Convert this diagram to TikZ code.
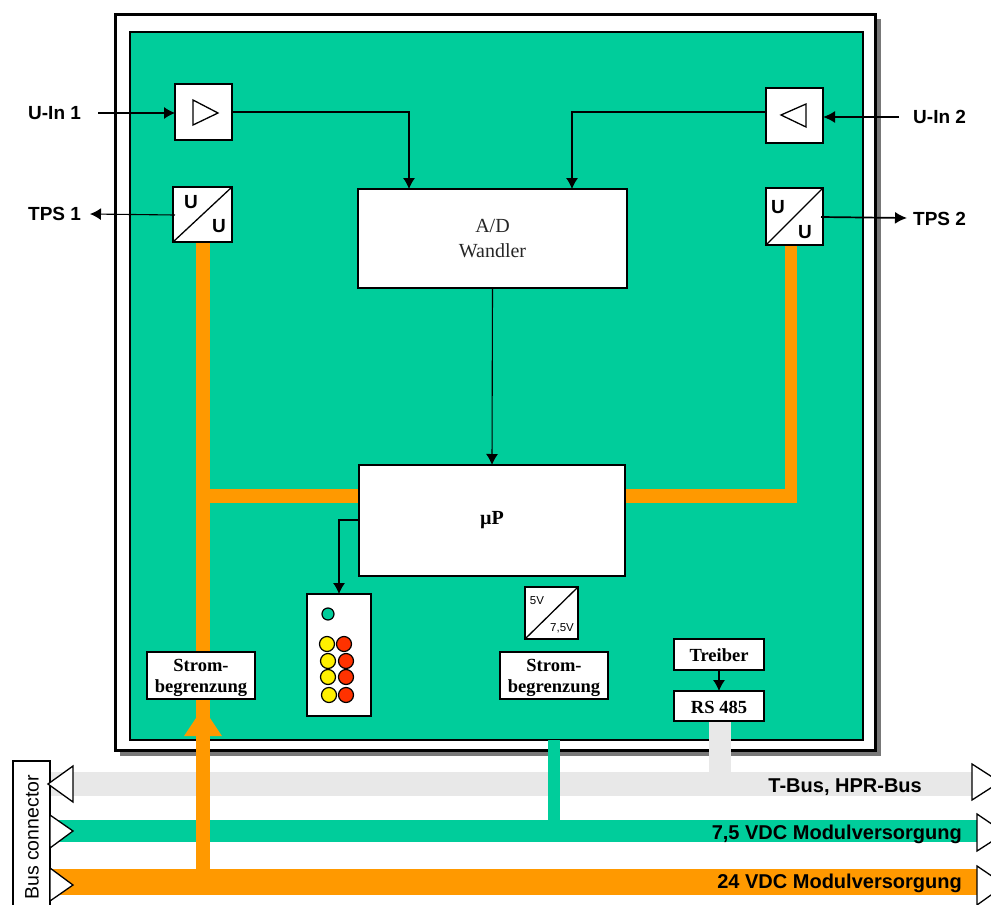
\documentclass[tikz,border=0pt]{standalone}
\usepackage{fontspec}
\setmainfont{Liberation Serif}
\setsansfont{Liberation Sans}
\usetikzlibrary{arrows.meta,calc}
\definecolor{pcb}{RGB}{0,205,155}
\definecolor{pow}{RGB}{255,153,0}
\definecolor{tbus}{RGB}{232,232,232}
\definecolor{ledy}{RGB}{255,240,0}
\definecolor{ledr}{RGB}{255,50,0}
\definecolor{shad}{RGB}{120,120,120}
\tikzset{
  box/.style={draw=black,fill=white,line width=1.1pt,inner sep=0pt,outer sep=0pt,anchor=north west},
  serifb/.style={font=\rmfamily\bfseries\fontsize{18.5}{21}\selectfont,align=center,text=black,inner sep=0pt},
  sansb/.style={font=\sffamily\bfseries\fontsize{19}{20}\selectfont,text=black,inner sep=0pt},
  busl/.style={font=\sffamily\bfseries\fontsize{20}{22}\selectfont,text=black,anchor=east,inner sep=0pt},
  wire/.style={draw=black,line width=1.1pt,-{Latex[length=11pt,width=12pt]}},
  wireb/.style={draw=black,line width=1.7pt,-{Latex[length=12pt,width=12pt]}},
  tri/.style={draw=black,fill=white,line width=1.3pt,line join=miter},
  led/.style={circle,draw=black,line width=1.2pt,minimum size=15pt,inner sep=0pt},
}
\newcommand{\bx}[5]{\node[box,minimum width=#4pt-#2pt,minimum height=#5pt-#3pt] (#1) at (#2,#3) {};}
\begin{document}
\begin{tikzpicture}[x=1pt,y=-1pt]
\useasboundingbox (0,0) rectangle (991,905);
% frame
\fill[shad] (120,19) rectangle (881,756);
\node[box,draw=black,line width=3pt,minimum width=760pt,minimum height=736pt] (frame) at (115,14) {};
\node[box,fill=pcb,line width=1.1pt,minimum width=733pt,minimum height=708pt] (board) at (130,32) {};
% buses
\fill[tbus] (50,772) rectangle (972,796);
\fill[pcb] (50,820) rectangle (978,842);
\fill[pow] (50,869) rectangle (978,895);
% bus stubs
\fill[tbus] (709,721) rectangle (731,773);
\fill[pcb] (548,740) rectangle (560,821);
\fill[pow] (196,243) rectangle (210,652);
\fill[pow] (196,699) rectangle (210,870);
\fill[pow] (210,489) rectangle (360,503);
\fill[pow] (625,489) rectangle (797,503);
\fill[pow] (785,245) rectangle (797,503);
\fill[pow] (196,718) -- (210,718) -- (222,736) -- (184,736) -- cycle;
% boxes
\bx{ampa}{175}{84}{232}{140}
\bx{ampb}{766}{88}{823}{143}
\bx{ua}{173}{187}{232}{242}
\bx{ub}{766}{188}{823}{245}
\node[box,minimum width=269pt,minimum height=99pt,font=\rmfamily\fontsize{20}{25}\selectfont,align=center,text=black!85] (ad) at (358,189) {A/D\\Wandler};
\bx{up}{359}{465}{625}{576}
\bx{ledbox}{307}{594}{371}{716}
\bx{conv}{525}{587}{578}{639}
\bx{stra}{147}{652}{255}{699}
\bx{strb}{500}{652}{608}{699}
\bx{trb}{674}{639}{764}{670}
\bx{rs}{674}{691}{764}{721}
\node[serifb,font=\rmfamily\bfseries\fontsize{20}{22}\selectfont] (upt) at (492,520) {µP};
\node[serifb] (stratx) at (201,678) {Strom-\\begrenzung};
\node[serifb] (strbtx) at (554,678) {Strom-\\begrenzung};
\node[serifb] (trbtx) at (719,655) {Treiber};
\node[serifb] (rstx) at (719,707) {RS 485};
% symbols in boxes
\draw[tri,fill=none] (193,100) -- (218,113) -- (193,125) -- cycle;
\draw[tri,fill=none] (806,104) -- (781,115) -- (806,127) -- cycle;
\draw[black,line width=1.3pt] (ua.south west) -- (ua.north east);
\draw[black,line width=1.3pt] (ub.south west) -- (ub.north east);
\draw[black,line width=1.3pt] (conv.south west) -- (conv.north east);
\node[sansb] (u1) at (191,202) {U};
\node[sansb] (u2) at (219,226) {U};
\node[sansb] (u3) at (778,207) {U};
\node[sansb] (u4) at (805,232) {U};
\node[font=\sffamily\fontsize{11.5}{12}\selectfont,inner sep=0pt] (v5) at (537,601) {5V};
\node[font=\sffamily\fontsize{11.5}{12}\selectfont,inner sep=0pt] (v75) at (562,628) {7,5V};
% leds
\node[led,fill=pcb,minimum size=12pt] (l0) at (328,614) {};
\node[led,fill=ledy] (y1) at (327,644) {};
\node[led,fill=ledy] (y2) at (328,661) {};
\node[led,fill=ledy] (y3) at (328,677) {};
\node[led,fill=ledy] (y4) at (329,695) {};
\node[led,fill=ledr] (r1) at (344,644) {};
\node[led,fill=ledr] (r2) at (346,661) {};
\node[led,fill=ledr] (r3) at (346,677) {};
\node[led,fill=ledr] (r4) at (346,695) {};
% labels
\node[sansb,anchor=west] (uin1) at (28,113) {U-In 1};
\node[sansb,anchor=west] (tps1) at (28,214) {TPS 1};
\node[sansb,anchor=west] (uin2) at (913,117) {U-In 2};
\node[sansb,anchor=west] (tps2) at (913,219) {TPS 2};
% connectors
\coordinate (uin1e) at (98,113);
\coordinate (uin2e) at (899,117);
\coordinate (ua1) at (175,215);
\coordinate (ub1) at (821,217);
\draw[wire] (uin1e) -- (ampa.west |- uin1e);
\draw[wire] (ua1) -- (90,214);
\draw[wireb] (uin2e) -- (ampb.east |- uin2e);
\draw[wireb] (ub1) -- (907,218);
\draw[wire] (ampa.east |- 0,112) -| (409,189);
\draw[wire] (ampb.west |- 0,112) -| (572,189);
\draw[wire] (ad.south) -- (up.north);
\draw[wire] (up.west |- 0,520) -| (ledbox.north);
\draw[wire] (trb.south) -- (rs.north);
% bus connector
\node[box,draw=black,line width=1.2pt,minimum width=37pt,minimum height=150pt] (conn) at (13,761) {};
\node[font=\sffamily\fontsize{19.5}{20}\selectfont,rotate=90,anchor=west,inner sep=0pt] (connt) at (32,900) {Bus connector};
\draw[tri] (73,766) -- (48,784) -- (73,802) -- cycle;
\draw[tri] (50,815) -- (73,831) -- (50,848) -- cycle;
\draw[tri] (50,868) -- (73,885) -- (50,901) -- cycle;
\draw[tri] (972,764) -- (1000,782) -- (972,800) -- cycle;
\draw[tri] (977,814) -- (1005,833) -- (977,851) -- cycle;
\draw[tri] (977,866) -- (1005,885) -- (977,905) -- cycle;
% bus labels
\node[busl] (tb) at (922,787) {T-Bus, HPR-Bus};
\node[busl] (v7) at (962,834) {7,5 VDC Modulversorgung};
\node[busl] (v24) at (962,883) {24 VDC Modulversorgung};
\end{tikzpicture}
\end{document}
